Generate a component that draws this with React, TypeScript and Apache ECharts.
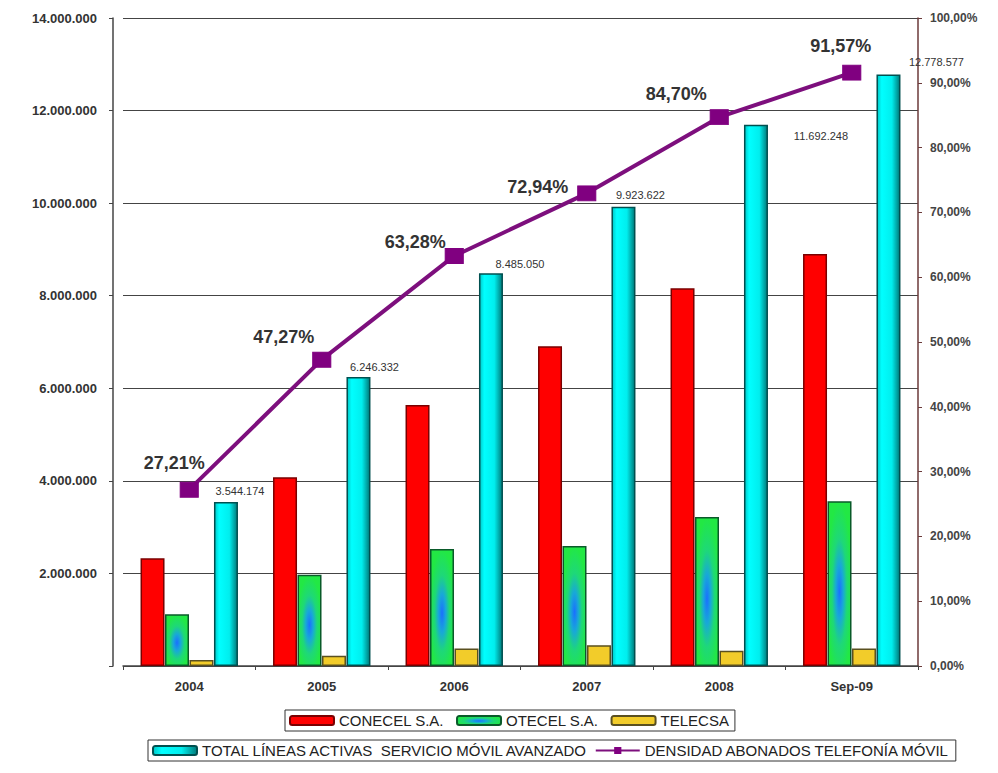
import React, { useEffect, useRef } from "react";
import * as echarts from "echarts";

const categories = ["2004", "2005", "2006", "2007", "2008", "Sep-09"];
const conecel = [2330000, 4080000, 5640000, 6910000, 8160000, 8900000];
const otecel = [1120000, 1970000, 2530000, 2590000, 3220000, 3560000];
const telecsa = [130000, 220000, 380000, 450000, 330000, 380000];
const totalLineas = [3544174, 6246332, 8485050, 9923622, 11692248, 12778577];
const densidad = [27.21, 47.27, 63.28, 72.94, 84.7, 91.57];

const totalLabelOffsets = [[14, 0], [16, 1], [29, 1], [17, -1], [65, 22], [48, -2]];
const densLabelOffsets = [[-15, -27], [-38, -23], [-39, -14], [-49, -6], [-43, -23], [-11, -27]];

const FONT = "Liberation Sans, Arial, sans-serif";

function fmtThousands(v: number): string {
  return String(Math.round(v)).replace(/\B(?=(\d{3})+(?!\d))/g, ".");
}

export default function App() {
  const ref = useRef<HTMLDivElement>(null);
  useEffect(() => {
    if (!ref.current) return;
    const chart = echarts.init(ref.current, null, { renderer: "svg" });
    const cyanFill = new echarts.graphic.LinearGradient(0, 0, 1, 0, [
      { offset: 0, color: "#00c8c8" },
      { offset: 0.2, color: "#00ffff" },
      { offset: 0.65, color: "#00eeee" },
      { offset: 1, color: "#007a7a" },
    ]);
    const greenFill = new echarts.graphic.RadialGradient(0.5, 0.55, 0.55, [
      { offset: 0, color: "#1a70ff" },
      { offset: 0.3, color: "#18a8d8" },
      { offset: 0.6, color: "#1ed878" },
      { offset: 1, color: "#22e844" },
    ]);
    chart.setOption({
      animation: false,
      backgroundColor: "#ffffff",
      textStyle: { fontFamily: FONT },
      grid: { left: 123, right: 80, top: 18, bottom: 107, containLabel: false },
      legend: [
        {
          data: ["CONECEL S.A.", "OTECEL S.A.", "TELECSA"],
          left: 285,
          top: 710,
          orient: "horizontal",
          itemWidth: 44,
          itemHeight: 9,
          itemGap: 12,
          padding: [3, 6, 3, 4],
          borderColor: "#333",
          borderWidth: 1,
          textStyle: { fontSize: 15, color: "#222", fontFamily: FONT },
        },
        {
          data: ["TOTAL LÍNEAS ACTIVAS  SERVICIO MÓVIL AVANZADO", "DENSIDAD ABONADOS TELEFONÍA MÓVIL"],
          left: 148,
          top: 740,
          orient: "horizontal",
          itemWidth: 44,
          itemHeight: 9,
          itemGap: 6,
          padding: [3, 6, 3, 4],
          borderColor: "#333",
          borderWidth: 1,
          textStyle: { fontSize: 15, color: "#222", fontFamily: FONT },
        },
      ],
      xAxis: {
        type: "category",
        data: categories,
        axisLine: { show: true, lineStyle: { color: "#444", width: 1.5 } },
        axisTick: { show: true, length: 4, lineStyle: { color: "#444" } },
        axisLabel: { fontSize: 13, fontWeight: "bold", color: "#333", margin: 14, fontFamily: FONT },
      },
      yAxis: [
        {
          type: "value",
          min: 0,
          max: 14000000,
          interval: 2000000,
          offset: 10,
          axisLine: { show: true, lineStyle: { color: "#444", width: 1.5 } },
          axisTick: { show: true, length: 4, lineStyle: { color: "#444" } },
          splitLine: { show: true, lineStyle: { color: "#444", width: 1 } },
          axisLabel: {
            fontSize: 13,
            fontWeight: "bold",
            color: "#333",
            margin: 16,
            fontFamily: FONT,
            formatter: (v: number) => (v === 0 ? "" : fmtThousands(v)),
          },
        },
        {
          type: "value",
          min: 0,
          max: 100,
          interval: 10,
          position: "right",
          axisLine: { show: true, lineStyle: { color: "#6b3a3a", width: 1.5 } },
          axisTick: { show: true, length: 4, lineStyle: { color: "#6b3a3a" } },
          splitLine: { show: false },
          axisLabel: {
            fontSize: 12,
            fontWeight: "bold",
            color: "#444",
            margin: 12,
            fontFamily: FONT,
            formatter: (v: number) => v.toFixed(2).replace(".", ",") + "%",
          },
        },
      ],
      series: [
        {
          name: "CONECEL S.A.",
          type: "bar",
          data: conecel,
          barWidth: 24,
          barGap: "2%",
          itemStyle: { color: "#ff0000", borderColor: "#7a0000", borderWidth: 1.5 },
        },
        {
          name: "OTECEL S.A.",
          type: "bar",
          data: otecel,
          barWidth: 24,
          barGap: "2%",
          itemStyle: { color: greenFill, borderColor: "#0a5a2a", borderWidth: 1.5 },
        },
        {
          name: "TELECSA",
          type: "bar",
          data: telecsa,
          barWidth: 24,
          barGap: "2%",
          itemStyle: { color: "#f2cc2a", borderColor: "#5a5020", borderWidth: 1.5 },
        },
        {
          name: "TOTAL LÍNEAS ACTIVAS  SERVICIO MÓVIL AVANZADO",
          type: "bar",
          data: totalLineas.map((v, i) => ({
            value: v,
            label: { offset: totalLabelOffsets[i] },
          })),
          barWidth: 24,
          barGap: "2%",
          itemStyle: { color: cyanFill, borderColor: "#005050", borderWidth: 1.5 },
          label: {
            show: true,
            position: "top",
            fontSize: 11,
            color: "#333",
            fontFamily: FONT,
            formatter: (p: any) => fmtThousands(p.value),
          },
        },
        {
          name: "DENSIDAD ABONADOS TELEFONÍA MÓVIL",
          type: "line",
          yAxisIndex: 1,
          data: densidad.map((v, i) => ({
            value: v,
            label: { offset: densLabelOffsets[i] },
          })),
          z: 5,
          symbol: "rect",
          symbolSize: [18, 15],
          lineStyle: { color: "#7d0f7d", width: 4 },
          itemStyle: { color: "#800080", borderColor: "#800080" },
          label: {
            show: true,
            position: "inside",
            fontSize: 18,
            fontWeight: "bold",
            color: "#333",
            fontFamily: FONT,
            formatter: (p: any) => p.value.toFixed(2).replace(".", ",") + "%",
          },
        },
      ],
    });
    return () => chart.dispose();
  }, []);
  return (
    <div
      ref={ref}
      style={{ position: "fixed", left: 0, top: 0, width: 998, height: 773, background: "#fff" }}
    />
  );
}
